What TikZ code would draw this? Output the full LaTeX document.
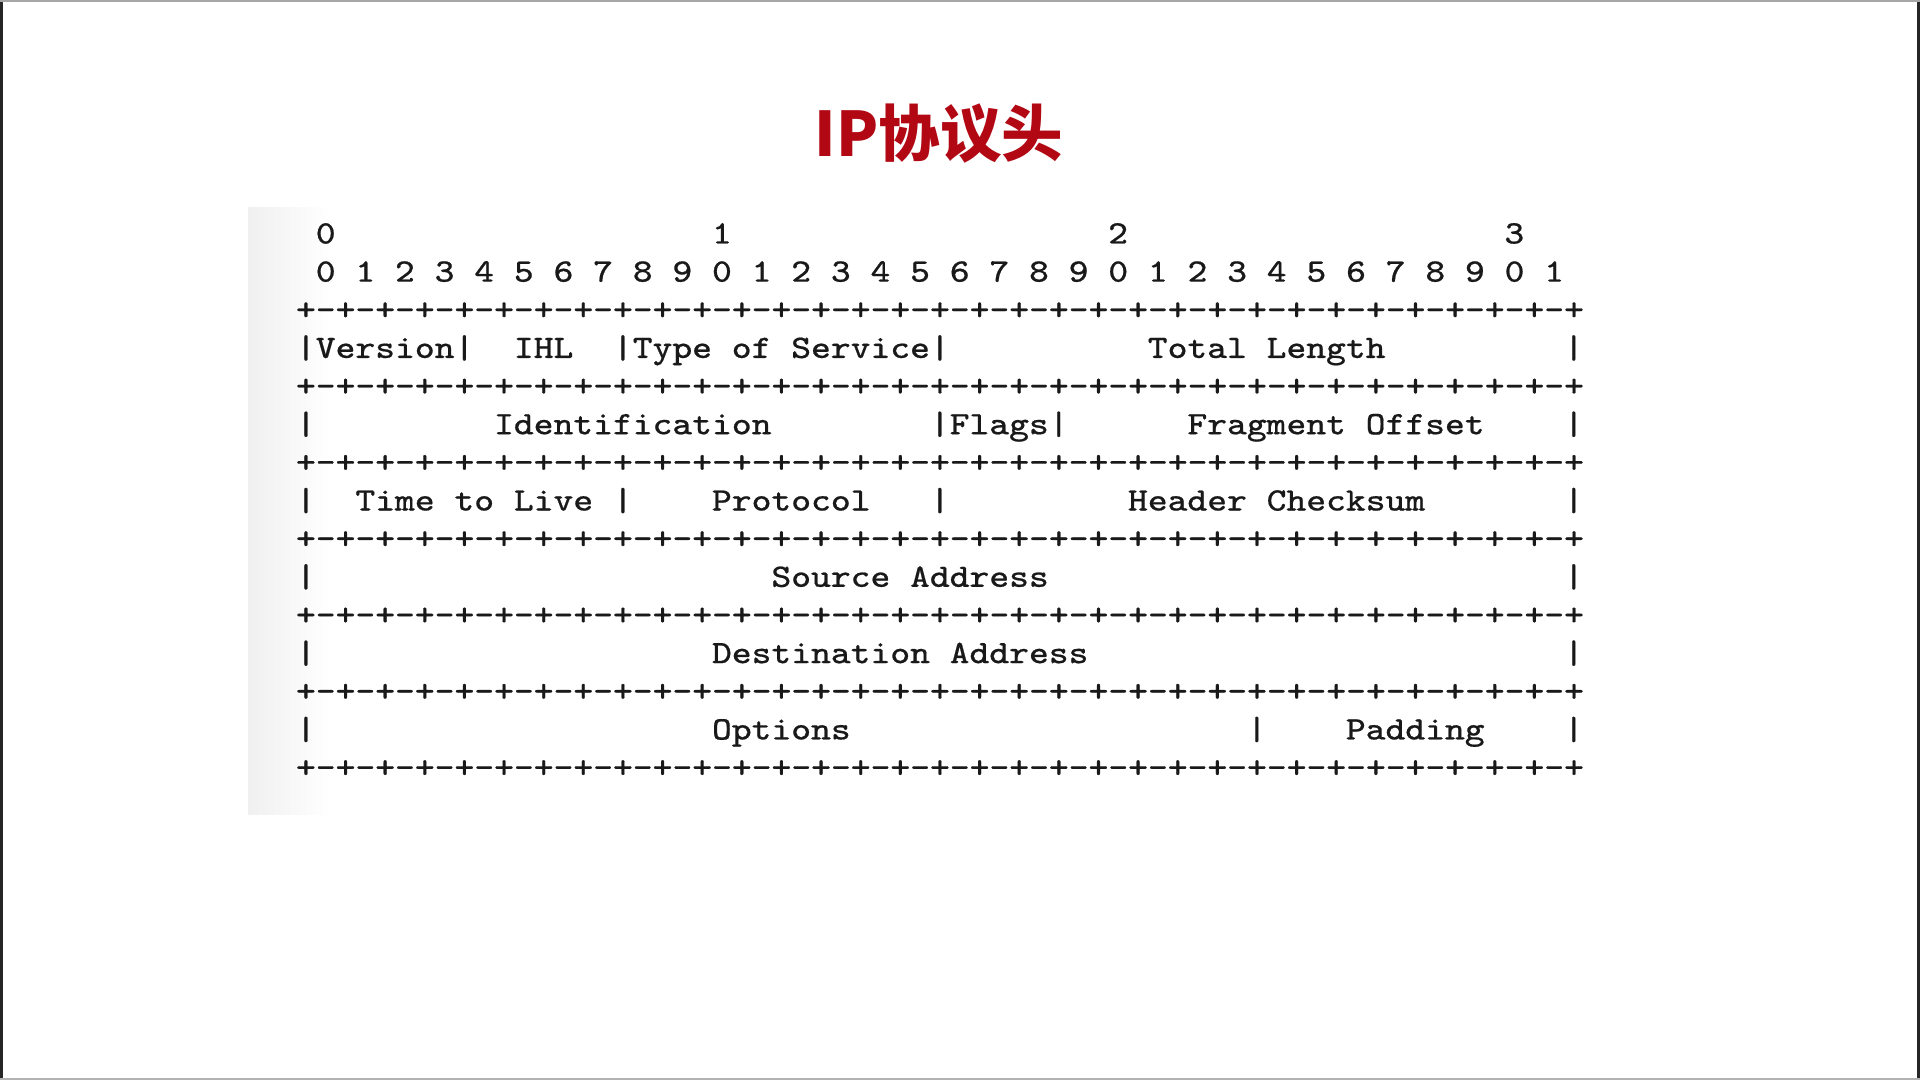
\documentclass[tikz,border=0pt]{standalone}
\usepackage{fontspec}
\newfontfamily\cjk{Noto Sans CJK SC}
\newfontfamily\mono{Latin Modern Mono}[FakeStretch=1.154, FakeBold=0.6, WordSpace={1,0,0}]
\definecolor{titlered}{RGB}{178,8,20}
\definecolor{ink}{RGB}{25,25,25}

% one ruler line: a plus, then 32 times "-+"
\def\rulerpiece{-+-+-+-+}
\def\ruler{+\rulerpiece\rulerpiece\rulerpiece\rulerpiece\rulerpiece\rulerpiece\rulerpiece\rulerpiece}

% place a text at character column #2 and text row #3 of the header table
\newcommand\fld[4]{%
  \node[txt] (#1) at ({295.3+19.81*((#2)-3)},{243.5+38.15*(#3)}) {#4};}

\begin{document}
\begin{tikzpicture}[x=0.01cm,y=-0.01cm,
  txt/.style={font=\mono\fontsize{9.30pt}{11pt}\selectfont,
              inner sep=0pt, anchor=base west, text=ink},
  heading/.style={font=\cjk\bfseries\fontsize{17.5pt}{20pt}\selectfont,
              text=titlered, inner sep=0pt}]
\useasboundingbox (0,0) rectangle (1920,1080);
\fill[white] (0,0) rectangle (1920,1080);

% slide frame
\fill[black!85] (0,0) rectangle (3,1080);
\fill[black!85] (1917,0) rectangle (1920,1080);
\fill[black!35] (0,0) rectangle (1920,2);
\fill[black!30] (0,1078) rectangle (1920,1080);

% light panel behind the table
\shade[left color=black!6, right color=white] (248,208) rectangle (330,815);

% title
\node[heading] (title) at (939,134) {IP协议头};

% bit numbering
\fld{tens0}{4}{0}{0}
\fld{tens1}{24}{0}{1}
\fld{tens2}{44}{0}{2}
\fld{tens3}{64}{0}{3}
\fld{units}{4}{1}{0 1 2 3 4 5 6 7 8 9 0 1 2 3 4 5 6 7 8 9 0 1 2 3 4 5 6 7 8 9 0 1}

% ruler lines
\foreach \r in {2,4,...,14} {\fld{rule\r}{3}{\r}{\ruler}}

% field separators
\foreach \r/\c in {3/3,3/11,3/19,3/35,3/67,
                   5/3,5/35,5/41,5/67,
                   7/3,7/19,7/35,7/67,
                   9/3,9/67,
                   11/3,11/67,
                   13/3,13/51,13/67}
  {\fld{bar-\r-\c}{\c}{\r}{|}}

% field names
\fld{version}{4}{3}{Version}
\fld{ihl}{14}{3}{IHL}
\fld{tos}{20}{3}{Type of Service}
\fld{totlen}{46}{3}{Total Length}
\fld{ident}{13}{5}{Identification}
\fld{flags}{36}{5}{Flags}
\fld{fragoff}{48}{5}{Fragment Offset}
\fld{ttl}{6}{7}{Time to Live}
\fld{proto}{24}{7}{Protocol}
\fld{checksum}{45}{7}{Header Checksum}
\fld{src}{27}{9}{Source Address}
\fld{dst}{24}{11}{Destination Address}
\fld{options}{24}{13}{Options}
\fld{padding}{56}{13}{Padding}
\end{tikzpicture}
\end{document}
